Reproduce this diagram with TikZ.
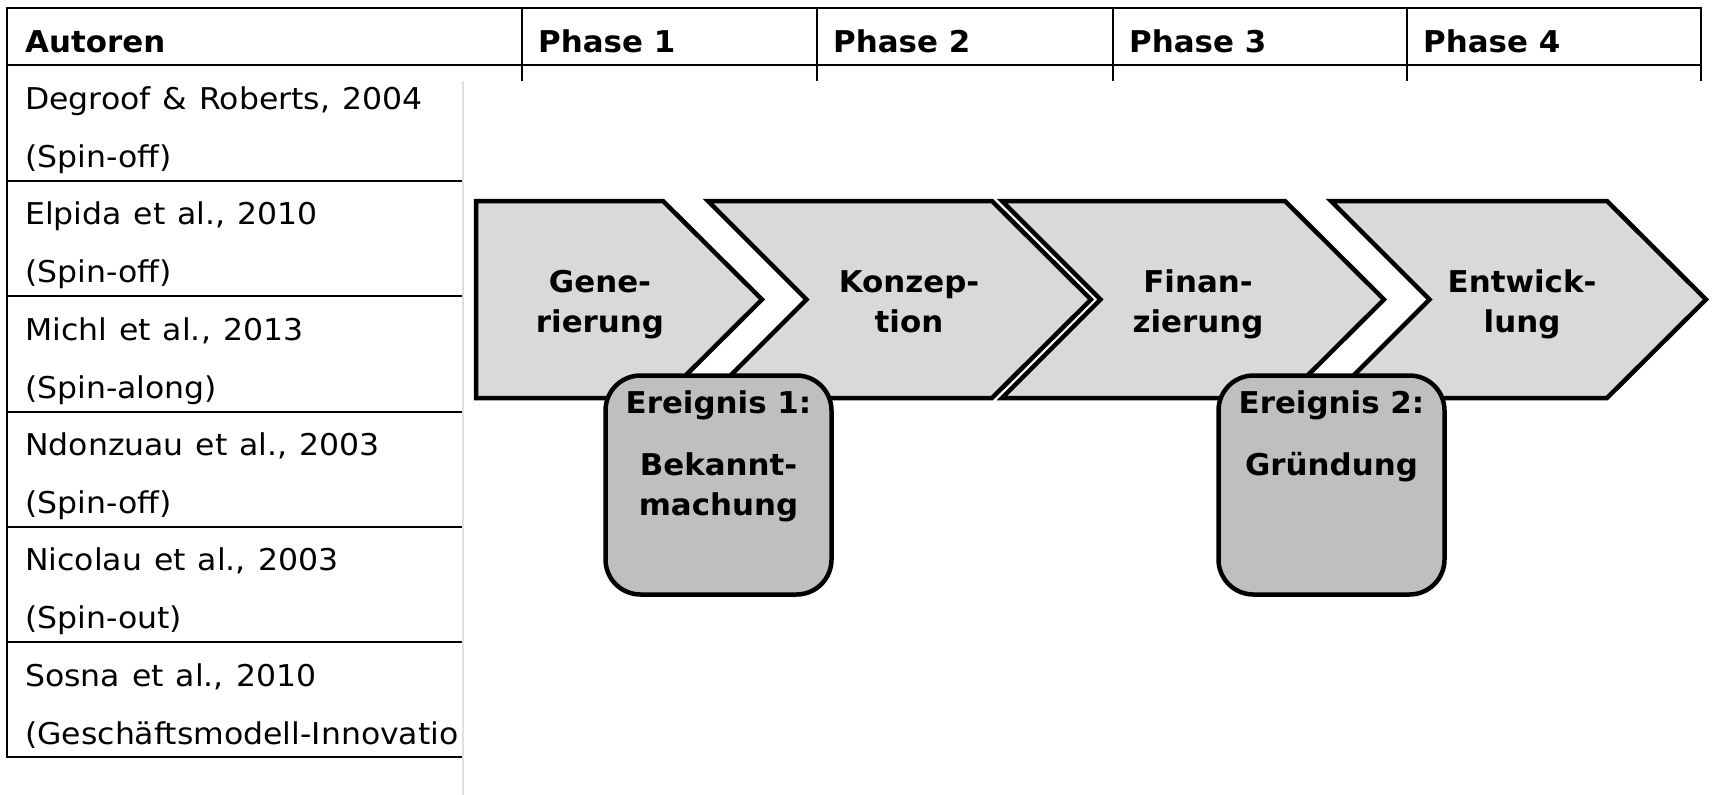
\documentclass[tikz,border=0pt]{standalone}
\usepackage{fontspec}
\setmainfont{DejaVu Sans}[UprightFeatures={FakeStretch=1.05,WordSpace=1.2},
BoldFeatures={FakeStretch=1.03}]
\usepackage{tikz}
\usetikzlibrary{positioning,calc}
\newcommand{\rownode}[2]{\parbox[t]{20cm}{\fontsize{30}{58}\selectfont #1\\#2}}
\newcommand{\chevnode}[1]{\parbox[t]{8cm}{\centering\fontsize{30}{40}\selectfont\bfseries #1}}

\begin{document}
\begin{tikzpicture}
[x=1pt,y=-1pt,
tabline/.style={black,line width=2pt},
head/.style={anchor=base west,inner sep=0pt,font=\fontsize{30}{36}\selectfont\bfseries},
cell/.style={anchor=base west,inner sep=0pt},
chev/.style={draw=black,line width=4.5pt,fill=black!15,line join=miter},
chevtext/.style={anchor=base,inner sep=0pt},
event/.style={draw=black,line width=4.5pt,fill=black!25,rounded corners=35pt,
minimum width=226pt,minimum height=219pt},
evtext/.style={anchor=base,inner sep=0pt}]
\useasboundingbox (0,0) rectangle (1719,795);
%% table
\draw[tabline] (7,8) rectangle (1701,757);
\draw[tabline] (7,65) -- (1701,65);
\foreach \y in {181,296,412,527,642} \draw[tabline] (7,\y) -- (1701,\y);
\foreach \x in {522,817,1113,1407} \draw[tabline] (\x,8) -- (\x,757);
%%
\node[head] (autoren) at (25,52) {Autoren};
\node[head] (ph1) at (538,52) {Phase 1};
\node[head] (ph2) at (833,52) {Phase 2};
\node[head] (ph3) at (1129,52) {Phase 3};
\node[head] (ph4) at (1423,52) {Phase 4};
%%
\node[cell] (degroof) at (25,109) {\rownode{Degroof \& Roberts, 2004}{(Spin-off)}};
\node[cell] (elpida) at (25,224) {\rownode{Elpida et al., 2010}{(Spin-off)}};
\node[cell] (michl) at (25,340) {\rownode{Michl et al., 2013}{(Spin-along)}};
\node[cell] (ndonzuau) at (25,455) {\rownode{Ndonzuau et al., 2003}{(Spin-off)}};
\node[cell] (nicolau) at (25,570) {\rownode{Nicolau et al., 2003}{(Spin-out)}};
\node[cell] (sosna) at (25,686) {\rownode{Sosna et al., 2010}{(Geschäftsmodell-Innovatio}};
%% overlay panel
\fill[white] (463,81) rectangle (1719,795);
\draw[black!12,line width=2.5pt] (463,81) -- (463,795);
%% phases
\draw[chev] (476,201) -- (663,201) -- (762,299.5) -- (663,398) -- (476,398) -- cycle;
\draw[chev] (708,201) -- (992,201) -- (1091,299.5) -- (992,398) -- (708,398)
-- (806.5,299.5) -- cycle;
\draw[chev] (1002,201) -- (1285,201) -- (1384,299.5) -- (1285,398) -- (1002,398)
-- (1100.5,299.5) -- cycle;
\draw[chev] (1331,201) -- (1607,201) -- (1706,299.5) -- (1607,398) -- (1331,398)
-- (1429.5,299.5) -- cycle;
\node[chevtext] (gen) at (600,292) {\chevnode{Gene-\\rierung}};
\node[chevtext] (konz) at (909,292) {\chevnode{Konzep-\\tion}};
\node[chevtext] (fin) at (1198,292) {\chevnode{Finan-\\zierung}};
\node[chevtext] (entw) at (1522,292) {\chevnode{Entwick-\\lung}};
%% events
\node[event] (ev1) at (718.5,485) {};
\node[event] (ev2) at (1331.5,485) {};
\node[evtext] (ev1txt) at ($(ev1.north)+(0,40)$)
{\chevnode{Ereignis 1:\\[22pt]Bekannt-\\machung}};
\node[evtext] (ev2txt) at ($(ev2.north)+(0,40)$)
{\chevnode{Ereignis 2:\\[22pt]Gründung}};
\end{tikzpicture}
\end{document}
